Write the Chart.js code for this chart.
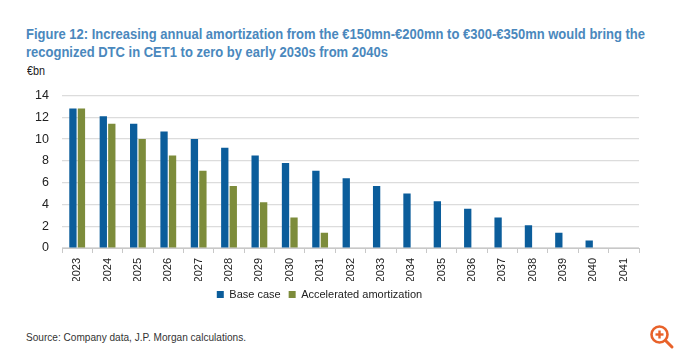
<!DOCTYPE html>
<html><head><meta charset="utf-8">
<script src="https://cdn.jsdelivr.net/npm/chart.js@4"></script>
<style>
html,body{margin:0;padding:0;background:#fff;width:680px;height:355px;overflow:hidden;font-family:"Liberation Sans",Arial,sans-serif;}
#title{position:absolute;left:26px;top:25px;color:#4a88bd;font-weight:bold;font-size:15px;line-height:18px;white-space:nowrap;transform-origin:0 0;}
#unit{position:absolute;left:27px;top:64px;font-size:12px;color:#222;transform:scaleX(0.9);transform-origin:0 0;}
#src{position:absolute;left:26px;top:331px;font-size:10.5px;color:#333;white-space:nowrap;transform:scaleX(0.96);transform-origin:0 0;}
#wrap{position:absolute;left:0;top:75px;width:680px;height:235px;}
#icon{position:absolute;left:649px;top:324px;}
</style></head><body>
<div id="title"><span id="l1">Figure 12: Increasing annual amortization from the €150mn-€200mn to €300-€350mn would bring the</span><br><span>recognized DTC in CET1 to zero by early 2030s from 2040s</span></div>
<div id="unit">€bn</div>
<div id="wrap"><canvas id="c"></canvas></div>
<div id="src">Source: Company data, J.P. Morgan calculations.</div>
<svg id="icon" width="26" height="26" viewBox="0 0 26 26"><circle cx="10.5" cy="10.5" r="8" fill="none" stroke="#e8622a" stroke-width="2.6"/><line x1="16.5" y1="16.5" x2="23" y2="23" stroke="#e8622a" stroke-width="3" stroke-linecap="round"/><line x1="10.5" y1="6.5" x2="10.5" y2="14.5" stroke="#e8622a" stroke-width="2.4"/><line x1="6.5" y1="10.5" x2="14.5" y2="10.5" stroke="#e8622a" stroke-width="2.4"/></svg>
<script>
const categories = ["2023","2024","2025","2026","2027","2028","2029","2030","2031","2032","2033","2034","2035","2036","2037","2038","2039","2040","2041"];
const baseCase = [12.8,12.1,11.4,10.7,10.0,9.2,8.5,7.8,7.1,6.4,5.7,5.0,4.3,3.6,2.8,2.1,1.4,0.7,0];
const accelerated = [12.8,11.4,10.0,8.5,7.1,5.7,4.2,2.8,1.4,null,null,null,null,null,null,null,null,null,null];
const yTicks = [0,2,4,6,8,10,12,14];
const seriesNames = ["Base case","Accelerated amortization"];

// fit title first line to reference width
(function(){
  const t = document.getElementById('title');
  const w = document.getElementById('l1').getBoundingClientRect().width;
  t.style.transform = 'scaleX(' + (619 / w) + ')';
})();

const FONT = '"Liberation Sans",Arial,sans-serif';
new Chart(document.getElementById('c'), {
  type: 'bar',
  data: {
    labels: categories,
    datasets: [
      {label: seriesNames[0], data: baseCase, backgroundColor: '#0b5d9b', categoryPercentage: 0.56, barPercentage: 0.86},
      {label: seriesNames[1], data: accelerated, backgroundColor: '#7d8c3b', categoryPercentage: 0.56, barPercentage: 0.86}
    ]
  },
  options: {
    responsive: true, maintainAspectRatio: false, animation: false,
    layout: {padding: {left: 0, right: 41, top: 5, bottom: 0}},
    plugins: {
      legend: {position: 'bottom', labels: {boxWidth: 7, boxHeight: 7, padding: 8, color: '#222', font: {family: FONT, size: 11}}},
      tooltip: {enabled: false}
    },
    scales: {
      x: {
        grid: {display: true, drawOnChartArea: false, tickLength: 5, color: '#c8c8c8', offset: true},
        border: {color: '#c8c8c8'},
        ticks: {minRotation: 90, maxRotation: 90, color: '#222', padding: 5, font: {family: FONT, size: 11}},
        afterFit: s => { s.height = 33; }
      },
      y: {
        min: 0, max: 14,
        afterBuildTicks: s => { s.ticks = yTicks.map(v => ({value: v})); },
        grid: {color: '#dcdcdc', lineWidth: 1.2, drawTicks: false},
        border: {display: false},
        ticks: {color: '#222', padding: 13, font: {family: FONT, size: 12.5}},
        afterFit: s => { s.width = 62; }
      }
    }
  }
});
</script>
</body></html>
